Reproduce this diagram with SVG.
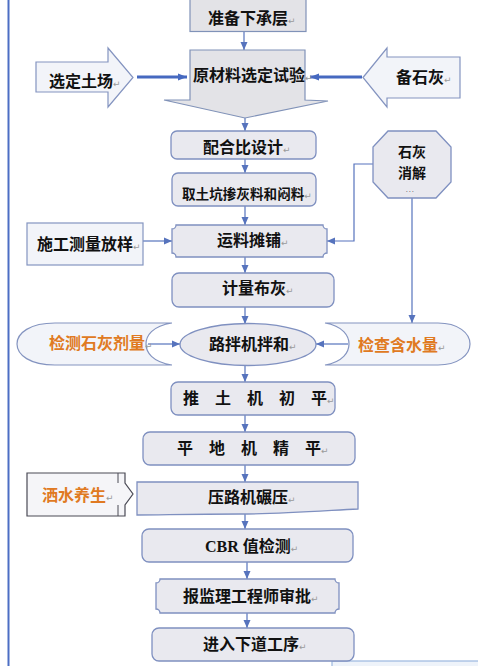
<svg xmlns="http://www.w3.org/2000/svg" width="478" height="666" viewBox="0 0 478 666">
<defs>
<style>
.box{fill:#e9e9ef;stroke:#7f90c0;stroke-width:1.3}
.gbox{fill:#e3e3e7;stroke:#8092b8;stroke-width:1.2}
.lt{fill:#f2f4f9;stroke:#8494c0;stroke-width:1.2}
.lbl{font-family:"Noto Sans CJK SC","Noto Sans",sans-serif;font-weight:bold;font-size:16px;fill:#111}
.org{fill:#e07a22}
.ret{font-family:"DejaVu Sans",sans-serif;font-weight:normal;font-size:9px;fill:#9a9a9a}
.conn{fill:none;stroke:#5673bd;stroke-width:1.2;marker-end:url(#ah)}
.thick{fill:none;stroke:#4669c0;stroke-width:3;marker-end:url(#ahb)}
</style>
<marker id="ah" markerUnits="userSpaceOnUse" markerWidth="8" markerHeight="8" refX="8" refY="4" orient="auto">
<path d="M0,0.5 L8,4 L0,7.5 Z" fill="#5673bd"/>
</marker>
<marker id="ahb" markerUnits="userSpaceOnUse" markerWidth="9" markerHeight="8" refX="9" refY="4" orient="auto">
<path d="M0,0.5 L9,4 L0,7.5 Z" fill="#4669c0"/>
</marker>
</defs>
<rect width="478" height="666" fill="#ffffff"/>
<line x1="8.5" y1="0" x2="8.5" y2="666" stroke="#4c6ec4" stroke-width="2"/>
<rect x="332" y="661" width="160" height="9" fill="#eef3fa" stroke="#9cb8e0" stroke-width="1.2"/>

<g id="connectors">
<line class="conn" x1="244" y1="32" x2="244" y2="50"/>
<line class="thick" x1="137" y1="77" x2="187" y2="77"/>
<line class="thick" x1="362" y1="77" x2="310" y2="77"/>
<line class="conn" x1="245" y1="118" x2="245" y2="131"/>
<line class="conn" x1="245" y1="159" x2="245" y2="173"/>
<line class="conn" x1="245" y1="206" x2="245" y2="225"/>
<line class="conn" x1="143" y1="241" x2="172" y2="241"/>
<polyline class="conn" points="373,164 354,164 354,241 327,241"/>
<line class="conn" x1="245" y1="257" x2="245" y2="273"/>
<line class="conn" x1="412" y1="198" x2="412" y2="323"/>
<line class="conn" x1="245" y1="307" x2="245" y2="324"/>
<line class="conn" x1="148" y1="344" x2="180" y2="344"/>
<line class="conn" x1="348" y1="344" x2="316" y2="344"/>
<line class="conn" x1="245" y1="365" x2="245" y2="382"/>
<line class="conn" x1="245" y1="415" x2="245" y2="432"/>
<line class="conn" x1="245" y1="465" x2="245" y2="482"/>
<line class="conn" x1="245" y1="514" x2="245" y2="529"/>
<line class="conn" x1="247" y1="562" x2="247" y2="579"/>
<line class="conn" x1="247" y1="613" x2="247" y2="628"/>
</g>

<g id="n-prepare">
<rect class="gbox" x="190" y="-2" width="116" height="33.5"/>
<text class="lbl" x="208" y="24">准备下承层<tspan class="ret">↵</tspan></text>
</g>

<g id="n-material">
<path class="gbox" d="M190,50 H305 V100 L328,101 L245,118 L164,100 L190,100 Z"/>
<text class="lbl" x="193" y="81">原材料选定试验<tspan class="ret">↵</tspan></text>
</g>

<g id="n-soil">
<polygon class="lt" points="36,62 108,62 108,48 133,77.5 108,107 108,92 36,92"/>
<text class="lbl" x="49" y="87">选定土场<tspan class="ret">↵</tspan></text>
</g>

<g id="n-lime">
<polygon class="lt" points="363,77.5 387,48 387,57 460,57 460,98 387,98 387,107"/>
<text class="lbl" x="396" y="83">备石灰<tspan class="ret">↵</tspan></text>
</g>

<g id="n-mix-design">
<rect class="box" x="171" y="131" width="145" height="28" rx="6"/>
<text class="lbl" x="203" y="153">配合比设计<tspan class="ret">↵</tspan></text>
</g>

<g id="n-borrow">
<rect class="box" x="172" y="173" width="144" height="33" rx="6"/>
<text class="lbl" x="182" y="199" style="font-size:13.6px">取土坑掺灰料和闷料<tspan class="ret">↵</tspan></text>
</g>

<g id="n-survey">
<rect class="lt" x="27" y="223" width="116" height="42"/>
<text class="lbl" x="37" y="250">施工测量放样<tspan class="ret">↵</tspan></text>
</g>

<g id="n-slake">
<polygon class="box" points="388,131 436,131 451,147 451,182 436,198 388,198 373,182 373,147"/>
<text class="lbl" x="398" y="157" style="font-size:14px">石灰</text>
<text class="lbl" x="398" y="178" style="font-size:14px">消解<tspan x="406" y="192" style="font-size:6px;font-weight:normal">. . .</tspan></text>
</g>

<g id="n-spread">
<path class="box" d="M176,225 H323 A4,4 0 0 0 327,229 V253 A4,4 0 0 0 323,257 H176 A4,4 0 0 0 172,253 V229 A4,4 0 0 0 176,225 Z"/>
<text class="lbl" x="217" y="246">运料摊铺<tspan class="ret">↵</tspan></text>
</g>

<g id="n-meter">
<rect class="box" x="172" y="273" width="162" height="34" rx="7"/>
<text class="lbl" x="222" y="294">计量布灰<tspan class="ret">↵</tspan></text>
</g>

<g id="n-test-lime">
<path class="lt" d="M172,323 H55 C30,323 17,333 17,344 C17,355 30,365 55,365 H172 C152,362 146,352 146,344 C146,336 152,326 172,323 Z"/>
<text class="lbl org" x="49" y="349">检测石灰剂量<tspan class="ret">↵</tspan></text>
</g>

<g id="n-roadmix">
<ellipse class="box" cx="248" cy="344.5" rx="68" ry="21"/>
<text class="lbl" x="209" y="350">路拌机拌和<tspan class="ret">↵</tspan></text>
</g>

<g id="n-moisture">
<path class="lt" d="M325,323 H438 C458,323 470,333 470,344 C470,355 458,365 438,365 H325 C343,362 349,352 349,344 C349,336 343,326 325,323 Z"/>
<text class="lbl org" x="358" y="351">检查含水量<tspan class="ret">↵</tspan></text>
</g>

<g id="n-doze">
<rect class="box" x="171" y="382" width="164" height="33" rx="7"/>
<text class="lbl" x="183" y="404">推　土　机　初　平<tspan class="ret">↵</tspan></text>
</g>

<g id="n-grade">
<rect class="box" x="143" y="432" width="212" height="33" rx="7"/>
<text class="lbl" x="177" y="454">平　地　机　精　平<tspan class="ret">↵</tspan></text>
</g>

<g id="n-roll">
<path class="box" d="M137,482 H358 V509 C320,511 280,514 240,514 C190,514 160,515 137,515 Z"/>
<text class="lbl" x="208" y="503">压路机碾压<tspan class="ret">↵</tspan></text>
</g>

<g id="n-water">
<path d="M27,473 H125 V483 L133,494 L125,505 V516 H27 Z" fill="#f5f5f8" stroke="#4a4a55" stroke-width="1.2"/>
<path d="M118,473 V483 M118,505 V516" stroke="#4a4a55" stroke-width="1" fill="none"/>
<text class="lbl org" x="42" y="501">洒水养生<tspan class="ret">↵</tspan></text>
</g>

<g id="n-cbr">
<rect class="box" x="142" y="529" width="211" height="33" rx="7"/>
<text class="lbl" x="205" y="552"><tspan style="font-family:'Liberation Serif',serif">CBR </tspan>值检测<tspan class="ret">↵</tspan></text>
</g>

<g id="n-approve">
<path class="box" d="M160,579 H335 A4,4 0 0 0 339,583 V609 A4,4 0 0 0 335,613 H160 A4,4 0 0 0 156,609 V583 A4,4 0 0 0 160,579 Z"/>
<text class="lbl" x="183" y="602">报监理工程师审批<tspan class="ret">↵</tspan></text>
</g>

<g id="n-next">
<rect class="box" x="152" y="628" width="202" height="33" rx="7"/>
<text class="lbl" x="203" y="650">进入下道工序<tspan class="ret">↵</tspan></text>
</g>
</svg>
